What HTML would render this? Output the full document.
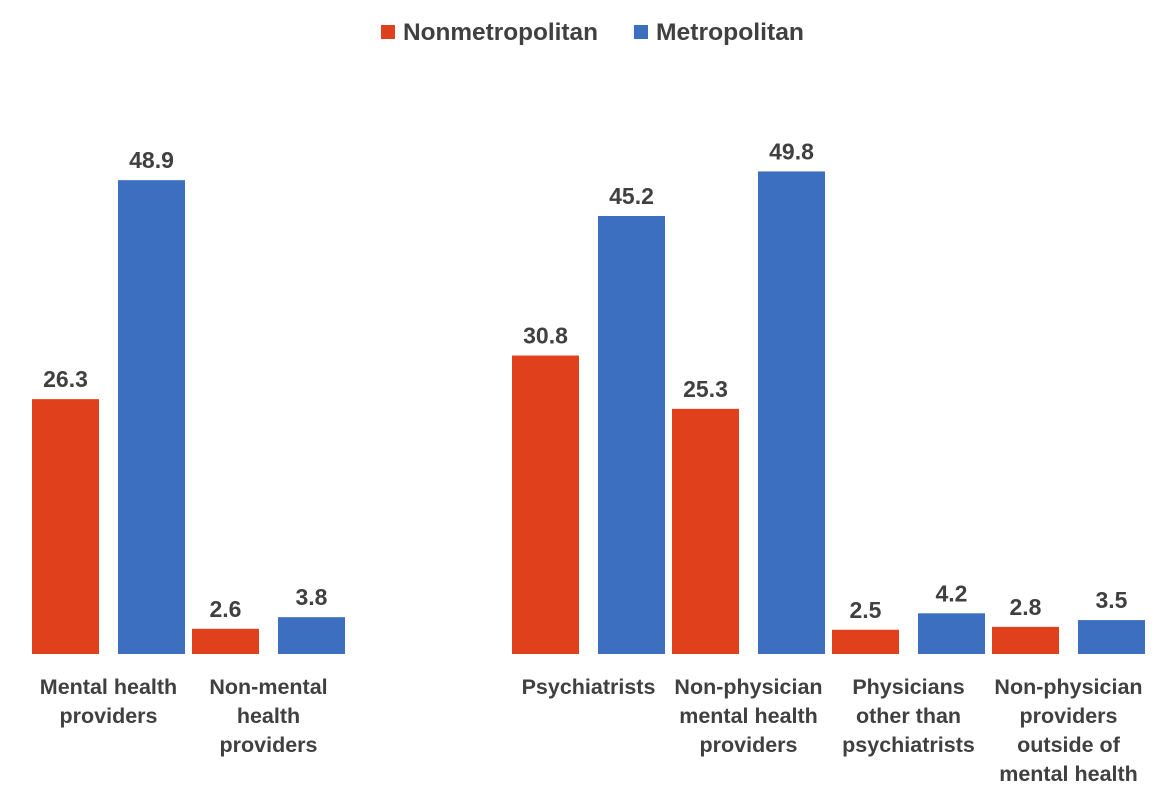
<!DOCTYPE html>
<html><head><meta charset="utf-8"><style>
body{margin:0;background:#fff;font-family:"Liberation Sans",sans-serif;}
svg text{font-family:"Liberation Sans",sans-serif;font-weight:bold;fill:#404040;}
</style></head><body>
<svg id="chart" width="1170" height="806" xmlns="http://www.w3.org/2000/svg">
<g>
<rect x="381" y="25" width="14" height="14" fill="#E0401C"/>
<text x="403" y="40" font-size="24" textLength="195" lengthAdjust="spacingAndGlyphs">Nonmetropolitan</text>
<rect x="634" y="25" width="14" height="14" fill="#3C6FBF"/>
<text x="656" y="40" font-size="24" textLength="148" lengthAdjust="spacingAndGlyphs">Metropolitan</text>
</g>
<g id="bars"></g>
<g id="labels"></g>
</svg>
<script>
const categories=[["Mental health","providers"],["Non-mental","health","providers"],[],["Psychiatrists"],["Non-physician","mental health","providers"],["Physicians","other than","psychiatrists"],["Non-physician","providers","outside of","mental health"]];
const nonmetro=[26.3,2.6,null,30.8,25.3,2.5,2.8];
const metro=[48.9,3.8,null,45.2,49.8,4.2,3.5];
const NS="http://www.w3.org/2000/svg";
const base=654, scale=9.69, slotW=160, slot0=28.5, barW=67;
const y=v=>base-v*scale;
const bars=document.getElementById('bars'), labels=document.getElementById('labels');
function mk(tag,attrs,parent){const e=document.createElementNS(NS,tag);for(const k in attrs)e.setAttribute(k,attrs[k]);parent.appendChild(e);return e;}
categories.forEach((cat,i)=>{
  const sx=slot0+slotW*i;
  [[nonmetro[i],sx+3.5,"#E0401C","nonmetro"],[metro[i],sx+89.5,"#3C6FBF","metro"]].forEach(([v,x,c,s])=>{
    if(v==null)return;
    const r=mk('rect',{x:x,y:y(v),width:barW,height:v*scale,fill:c},bars);
    
    
    const t=mk('text',{x:x+barW/2,y:y(v)-12,'font-size':23,'text-anchor':'middle'},labels);
    
    
    t.textContent=v.toFixed(1);
  });
  cat.forEach((line,j)=>{
    const t=mk('text',{x:sx+80,y:694+j*29,'font-size':21.5,'text-anchor':'middle'},labels);
    
    
    t.textContent=line;
  });
});
</script>
</body></html>
